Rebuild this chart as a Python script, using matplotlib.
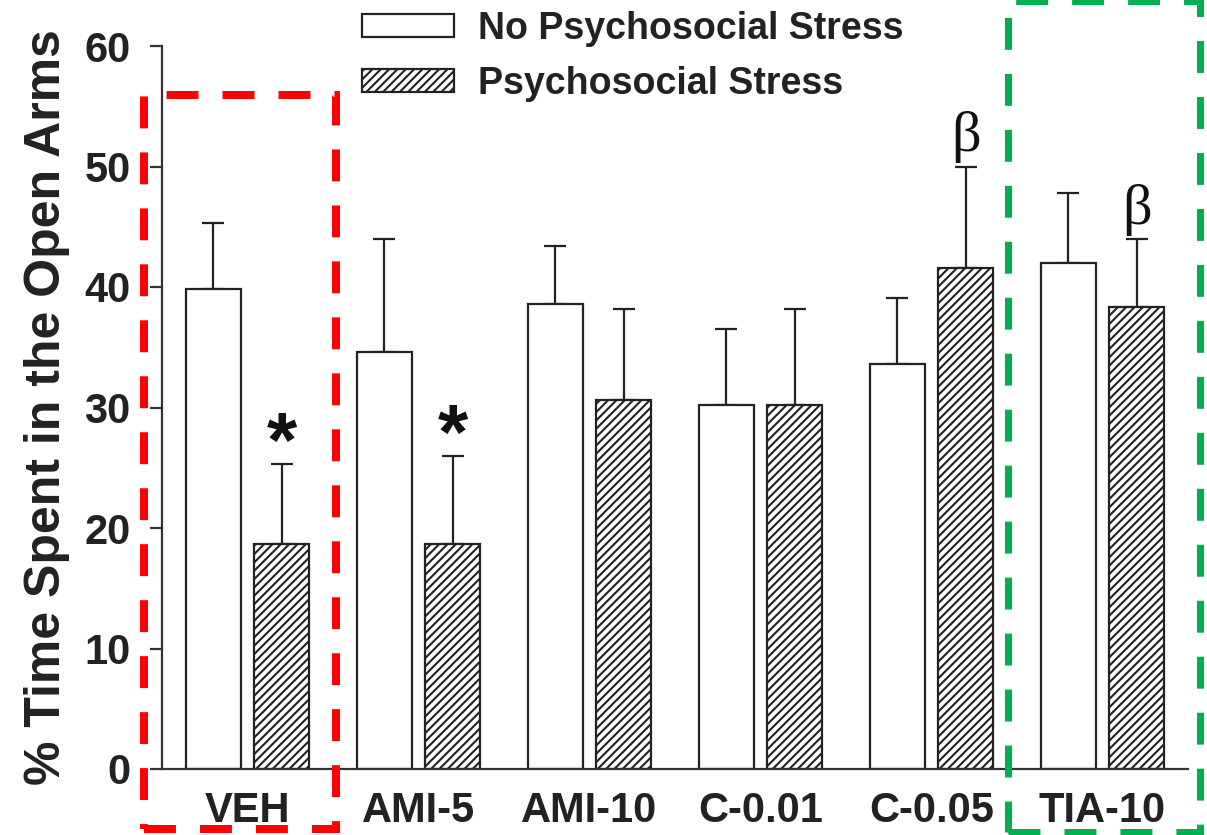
import matplotlib
matplotlib.use("Agg")
import matplotlib.pyplot as plt
import numpy as np
from matplotlib.patches import Rectangle

plt.rcParams['font.family'] = ['Liberation Sans', 'DejaVu Sans']
plt.rcParams['hatch.linewidth'] = 1.5
plt.rcParams['lines.scale_dashes'] = False

groups = ["VEH", "AMI-5", "AMI-10", "C-0.01", "C-0.05", "TIA-10"]
no_stress = [39.8, 34.6, 38.6, 30.2, 33.6, 42.0]
no_stress_err = [5.5, 9.4, 4.8, 6.3, 5.5, 5.8]
stress = [18.7, 18.7, 30.6, 30.2, 41.6, 38.3]
stress_err = [6.6, 7.3, 7.6, 8.0, 8.4, 5.7]
stress_marks = ["*", "*", "", "", "β", "β"]
yticks = [0, 10, 20, 30, 40, 50, 60]

W, H = 1207, 835
fig = plt.figure(figsize=(W / 100, H / 100), dpi=100)
ax = fig.add_axes([162 / W, 66 / H, 1026 / W, 723 / H])

x = np.arange(len(groups))
off = 0.2
bw = 0.32
ec = '#222222'

b1 = ax.bar(x - off, no_stress, bw, color='white', edgecolor=ec, linewidth=1.6,
            label='No Psychosocial Stress', zorder=2)
b2 = ax.bar(x + off, stress, bw, color='white', edgecolor=ec, linewidth=1.6,
            hatch='////', label='Psychosocial Stress', zorder=2)
ax.errorbar(x - off, no_stress, yerr=[np.zeros(len(x)), no_stress_err], fmt='none',
            ecolor=ec, elinewidth=1.6, capsize=8, capthick=1.6, zorder=1)
ax.errorbar(x + off, stress, yerr=[np.zeros(len(x)), stress_err], fmt='none',
            ecolor=ec, elinewidth=1.6, capsize=8, capthick=1.6, zorder=1)

for xi, v, e, m in zip(x + off, stress, stress_err, stress_marks):
    if m == "*":
        ax.text(xi, v + e - 0.25, m, ha='center', va='baseline', fontsize=56,
                fontweight='bold', color='#111111')
    elif m:
        ax.text(xi, v + e + 0.25, m, ha='center', va='bottom', fontsize=42,
                family=['Liberation Serif', 'DejaVu Serif'], color='#111111')

ax.set_xlim(-0.5, 5.5)
ax.set_ylim(0, 60)
ax.set_yticks(yticks)
ax.set_xticks(x)
ax.set_xticklabels(groups)
for s in ['top', 'right']:
    ax.spines[s].set_visible(False)
for s in ['left', 'bottom']:
    ax.spines[s].set_linewidth(1.6)
    ax.spines[s].set_color('#333333')
ax.tick_params(axis='y', length=8.6, width=1.6, color='#333333', pad=14,
               labelsize=30)
ax.tick_params(axis='x', length=0, pad=16, labelsize=30)
for lab in ax.get_xticklabels() + ax.get_yticklabels():
    lab.set_fontweight('bold')
    lab.set_color('#222222')

ax.set_ylabel('% Time Spent in the Open Arms', fontsize=36, fontweight='bold',
              color='#222222')
ax.yaxis.set_label_coords((70 - 162) / 1026, 0.5)

leg = ax.legend(loc='upper left', bbox_to_anchor=(362 / W, 1 - 11 / H),
                bbox_transform=fig.transFigure, frameon=False,
                prop={'size': 27, 'weight': 'bold'}, handlelength=2.45,
                handleheight=0.56, handletextpad=0.64, labelspacing=0.5,
                borderpad=0, borderaxespad=0)
for t in leg.get_texts():
    t.set_color('#222222')

def px_rect(x0, y0, x1, y1, color, lw):
    r = Rectangle((x0 / W, 1 - y1 / H), (x1 - x0) / W, (y1 - y0) / H,
                  transform=fig.transFigure, fill=False, edgecolor=color,
                  linewidth=lw * 0.72, linestyle=(0, (23, 17.3)), zorder=10)
    fig.patches.append(r)

px_rect(144, 95, 336, 829, '#FF0000', 8)
px_rect(1008, 1, 1200, 832, '#00B050', 7)

fig.savefig('out.png', dpi=100)
